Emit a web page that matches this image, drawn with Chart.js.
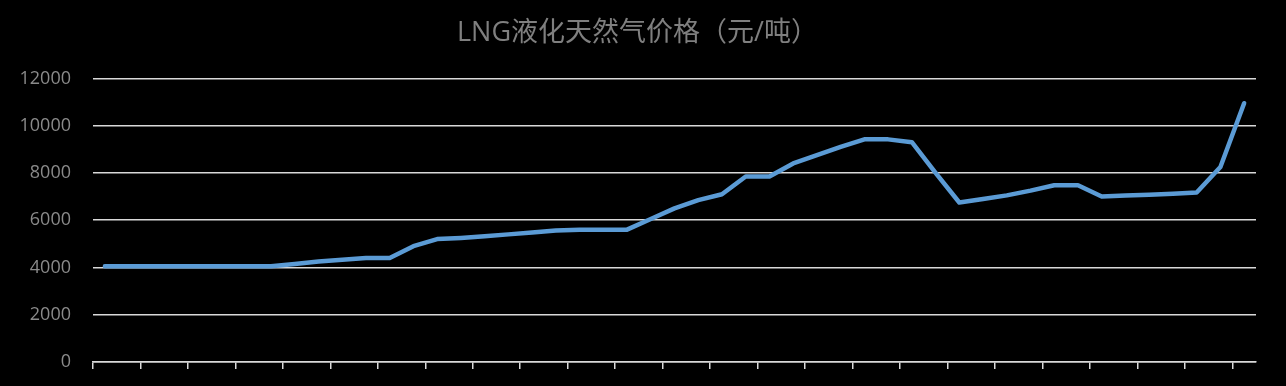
<!DOCTYPE html>
<html>
<head>
<meta charset="utf-8">
<script src="https://cdn.jsdelivr.net/npm/chart.js@4"></script>
<style>
  html, body { margin: 0; padding: 0; background: #000; }
  #wrap { width: 1286px; height: 386px; }
</style>
</head>
<body>
<div id="wrap"><canvas id="chart"></canvas></div>
<script>
// 49 periods along the x axis (labels are cut off in the source image)
const periods = Array.from({ length: 49 }, (_, i) => String(i + 1));

// LNG price, yuan per ton
const lngPrice = [
  4050, 4050, 4050, 4050, 4050, 4050, 4050, 4050,
  4150, 4250, 4330, 4400, 4400, 4900, 5200, 5250,
  5320, 5400, 5480, 5560, 5600, 5600, 5600, 6050,
  6500, 6850, 7100, 7850, 7850, 8400, 8750, 9100,
  9420, 9420, 9300, 8000, 6750, 6900, 7050, 7250,
  7480, 7480, 7000, 7040, 7080, 7120, 7170, 8250,
  10950
];

const yTicks = [0, 2000, 4000, 6000, 8000, 10000, 12000];

const gridColor = '#d9d9d9';
const textColor = '#8a8a8a';

const chart = new Chart(document.getElementById('chart'), {
  type: 'line',
  data: {
    labels: periods,
    datasets: [{
      label: 'LNG液化天然气价格',
      data: lngPrice,
      borderColor: '#5b9bd5',
      backgroundColor: '#5b9bd5',
      borderWidth: 4.5,
      pointRadius: 0,
      tension: 0,
      fill: false,
      borderJoinStyle: 'round',
      borderCapStyle: 'round'
    }]
  },
  options: {
    responsive: true,
    maintainAspectRatio: false,
    animation: false,
    layout: { padding: { left: 19, right: 30, top: 0, bottom: 0 } },
    plugins: {
      legend: { display: false },
      tooltip: { enabled: false },
      title: {
        display: true,
        text: 'LNG液化天然气价格（元/吨）',
        color: '#7f7f7f',
        font: { family: "'Open Sans', 'Noto Sans CJK SC', sans-serif", size: 27, weight: 'normal' },
        padding: { top: 17, bottom: 29 }
      }
    },
    scales: {
      x: {
        offset: true,
        grid: {
          offset: true,
          drawOnChartArea: false,
          drawTicks: true,
          tickLength: 7,
          lineWidth: 1.5,
          color: (ctx) => (ctx.index % 2 === 0 ? gridColor : 'rgba(0,0,0,0)')
        },
        border: { display: true, color: gridColor, width: 1.5 },
        ticks: { display: false, autoSkip: false },
        afterFit: (scale) => { scale.height = 24; }
      },
      y: {
        min: 0,
        max: 12000,
        afterBuildTicks: (scale) => { scale.ticks = yTicks.map(v => ({ value: v })); },
        grid: { color: gridColor, lineWidth: 1.5, drawTicks: false },
        border: { display: false },
        ticks: {
          color: textColor,
          padding: 22,
          font: { family: "'Open Sans', sans-serif", size: 18 },
          callback: (v) => String(v)
        },
        afterFit: (scale) => {
          scale.width = 74;
          scale.paddingTop = 0;
          scale.paddingBottom = 0;
        }
      }
    }
  }
});
</script>
</body>
</html>
